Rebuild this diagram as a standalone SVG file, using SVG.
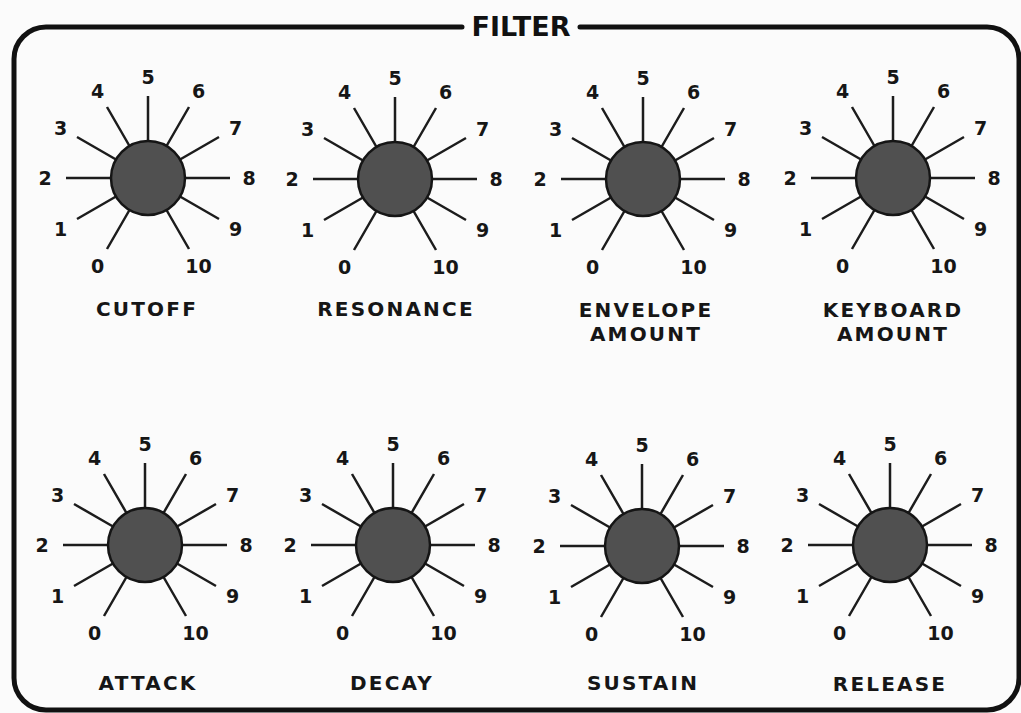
<svg xmlns="http://www.w3.org/2000/svg" width="1021" height="713" viewBox="0 0 1021 713">
<style>
.bg{fill:#fbfbfb}
.frame{fill:none;stroke:#111;stroke-width:5;stroke-linecap:round}
.title{font-family:"DejaVu Sans",sans-serif;font-weight:bold;font-size:27px;fill:#111;text-anchor:middle;letter-spacing:0px}
.sp{stroke:#1c1c1c;stroke-width:2.5;fill:none}
.knob{fill:#505050;stroke:#151515;stroke-width:2.5}
.n{font-family:"DejaVu Sans",sans-serif;font-weight:bold;font-size:19px;fill:#161616;text-anchor:middle}
.lbl{font-family:"DejaVu Sans",sans-serif;font-weight:bold;font-size:20px;fill:#161616;text-anchor:middle;letter-spacing:2.2px}
</style>
<defs>
<path id="spokes" class="sp" d="M0,-37V-82M18.5,-32L41,-71M32,-18.5L71,-41M37,0H82M32,18.5L71,41M18.5,32L41,71M-18.5,32L-41,71M-32,18.5L-71,41M-37,0H-82M-32,-18.5L-71,-41M-18.5,-32L-41,-71"/>
</defs>
<rect class="bg" x="0" y="0" width="1021" height="713"/>
<g id="frame">
<path class="frame" d="M462,27H46A32,32 0 0 0 14,59V678A32,32 0 0 0 46,710H987A32,32 0 0 0 1019,678V59A32,32 0 0 0 987,27H580"/>
<text class="title" x="521" y="36">FILTER</text>
</g>
<g id="connectors"></g>

<g id="cutoff" transform="translate(148,178)">
<use href="#spokes"/><circle class="knob" r="37"/>
<text class="n" x="-50.5" y="94.5">0</text><text class="n" x="-87.5" y="57.5">1</text><text class="n" x="-103" y="7">2</text><text class="n" x="-87.5" y="-43.5">3</text><text class="n" x="-50.5" y="-80.5">4</text><text class="n" x="0" y="-94">5</text><text class="n" x="50.5" y="-80.5">6</text><text class="n" x="87.5" y="-43.5">7</text><text class="n" x="101" y="7">8</text><text class="n" x="87.5" y="57.5">9</text><text class="n" x="50.5" y="94.5">10</text>
<text class="lbl" x="-1" y="138">CUTOFF</text>
</g>

<g id="resonance" transform="translate(395,179)">
<use href="#spokes"/><circle class="knob" r="37"/>
<text class="n" x="-50.5" y="94.5">0</text><text class="n" x="-87.5" y="57.5">1</text><text class="n" x="-103" y="7">2</text><text class="n" x="-87.5" y="-43.5">3</text><text class="n" x="-50.5" y="-80.5">4</text><text class="n" x="0" y="-94">5</text><text class="n" x="50.5" y="-80.5">6</text><text class="n" x="87.5" y="-43.5">7</text><text class="n" x="101" y="7">8</text><text class="n" x="87.5" y="57.5">9</text><text class="n" x="50.5" y="94.5">10</text>
<text class="lbl" x="1" y="137">RESONANCE</text>
</g>

<g id="envelope-amount" transform="translate(643,179)">
<use href="#spokes"/><circle class="knob" r="37"/>
<text class="n" x="-50.5" y="94.5">0</text><text class="n" x="-87.5" y="57.5">1</text><text class="n" x="-103" y="7">2</text><text class="n" x="-87.5" y="-43.5">3</text><text class="n" x="-50.5" y="-80.5">4</text><text class="n" x="0" y="-94">5</text><text class="n" x="50.5" y="-80.5">6</text><text class="n" x="87.5" y="-43.5">7</text><text class="n" x="101" y="7">8</text><text class="n" x="87.5" y="57.5">9</text><text class="n" x="50.5" y="94.5">10</text>
<text class="lbl" x="3" y="138">ENVELOPE</text>
<text class="lbl" x="3" y="162">AMOUNT</text>
</g>

<g id="keyboard-amount" transform="translate(893,178)">
<use href="#spokes"/><circle class="knob" r="37"/>
<text class="n" x="-50.5" y="94.5">0</text><text class="n" x="-87.5" y="57.5">1</text><text class="n" x="-103" y="7">2</text><text class="n" x="-87.5" y="-43.5">3</text><text class="n" x="-50.5" y="-80.5">4</text><text class="n" x="0" y="-94">5</text><text class="n" x="50.5" y="-80.5">6</text><text class="n" x="87.5" y="-43.5">7</text><text class="n" x="101" y="7">8</text><text class="n" x="87.5" y="57.5">9</text><text class="n" x="50.5" y="94.5">10</text>
<text class="lbl" x="0" y="139">KEYBOARD</text>
<text class="lbl" x="0" y="163">AMOUNT</text>
</g>

<g id="attack" transform="translate(145,545)">
<use href="#spokes"/><circle class="knob" r="37"/>
<text class="n" x="-50.5" y="94.5">0</text><text class="n" x="-87.5" y="57.5">1</text><text class="n" x="-103" y="7">2</text><text class="n" x="-87.5" y="-43.5">3</text><text class="n" x="-50.5" y="-80.5">4</text><text class="n" x="0" y="-94">5</text><text class="n" x="50.5" y="-80.5">6</text><text class="n" x="87.5" y="-43.5">7</text><text class="n" x="101" y="7">8</text><text class="n" x="87.5" y="57.5">9</text><text class="n" x="50.5" y="94.5">10</text>
<text class="lbl" x="3" y="145">ATTACK</text>
</g>

<g id="decay" transform="translate(393,545)">
<use href="#spokes"/><circle class="knob" r="37"/>
<text class="n" x="-50.5" y="94.5">0</text><text class="n" x="-87.5" y="57.5">1</text><text class="n" x="-103" y="7">2</text><text class="n" x="-87.5" y="-43.5">3</text><text class="n" x="-50.5" y="-80.5">4</text><text class="n" x="0" y="-94">5</text><text class="n" x="50.5" y="-80.5">6</text><text class="n" x="87.5" y="-43.5">7</text><text class="n" x="101" y="7">8</text><text class="n" x="87.5" y="57.5">9</text><text class="n" x="50.5" y="94.5">10</text>
<text class="lbl" x="-1" y="145">DECAY</text>
</g>

<g id="sustain" transform="translate(642,546)">
<use href="#spokes"/><circle class="knob" r="37"/>
<text class="n" x="-50.5" y="94.5">0</text><text class="n" x="-87.5" y="57.5">1</text><text class="n" x="-103" y="7">2</text><text class="n" x="-87.5" y="-43.5">3</text><text class="n" x="-50.5" y="-80.5">4</text><text class="n" x="0" y="-94">5</text><text class="n" x="50.5" y="-80.5">6</text><text class="n" x="87.5" y="-43.5">7</text><text class="n" x="101" y="7">8</text><text class="n" x="87.5" y="57.5">9</text><text class="n" x="50.5" y="94.5">10</text>
<text class="lbl" x="1" y="144">SUSTAIN</text>
</g>

<g id="release" transform="translate(890,545)">
<use href="#spokes"/><circle class="knob" r="37"/>
<text class="n" x="-50.5" y="94.5">0</text><text class="n" x="-87.5" y="57.5">1</text><text class="n" x="-103" y="7">2</text><text class="n" x="-87.5" y="-43.5">3</text><text class="n" x="-50.5" y="-80.5">4</text><text class="n" x="0" y="-94">5</text><text class="n" x="50.5" y="-80.5">6</text><text class="n" x="87.5" y="-43.5">7</text><text class="n" x="101" y="7">8</text><text class="n" x="87.5" y="57.5">9</text><text class="n" x="50.5" y="94.5">10</text>
<text class="lbl" x="0" y="146">RELEASE</text>
</g>
</svg>
